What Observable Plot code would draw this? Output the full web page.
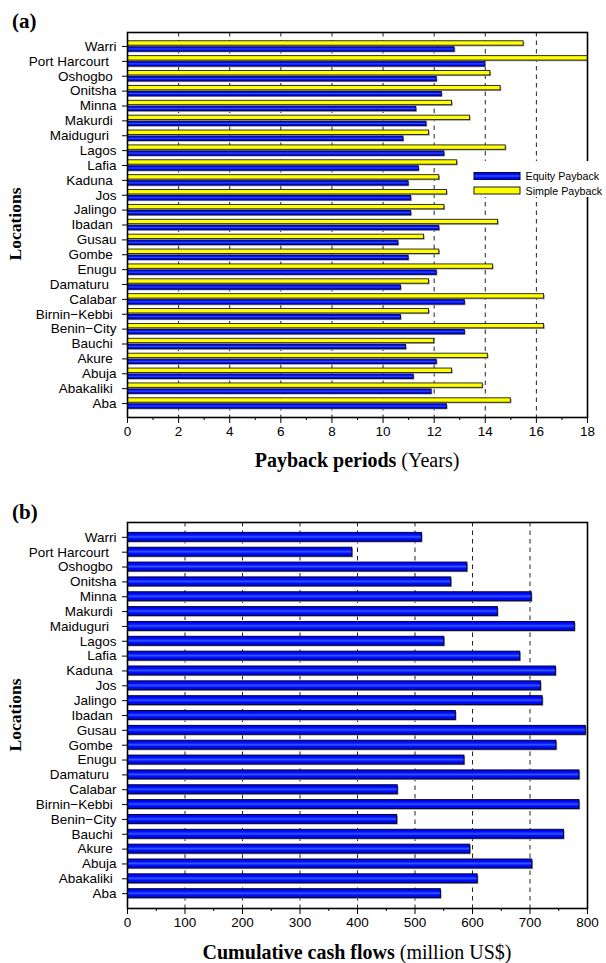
<!DOCTYPE html>
<html><head><meta charset="utf-8">
<script src="https://cdn.jsdelivr.net/npm/d3@7"></script>
<script src="https://cdn.jsdelivr.net/npm/@observablehq/plot@0.6"></script>
<style>
html,body{margin:0;padding:0;background:#fff;overflow:hidden;}
#wrap{width:606px;}
#wrap svg{display:block;}
</style></head><body><div id="wrap"></div>
<script>
// ---------- data ----------
const locations = ["Warri","Port Harcourt","Oshogbo","Onitsha","Minna","Makurdi","Maiduguri","Lagos","Lafia","Kaduna","Jos","Jalingo","Ibadan","Gusau","Gombe","Enugu","Damaturu","Calabar","Birnin\u2212Kebbi","Benin\u2212City","Bauchi","Akure","Abuja","Abakaliki","Aba"];
// tick labels as printed (some names carry trailing spaces in the source)
const locationTickLabels = ["Warri","Port Harcourt\u00a0\u00a0","Oshogbo\u00a0","Onitsha","Minna","Makurdi\u00a0","Maiduguri\u00a0\u00a0","Lagos","Lafia","Kaduna\u00a0","Jos","Jalingo","Ibadan\u00a0","Gusau","Gombe\u00a0","Enugu","Damaturu\u00a0\u00a0","Calabar","Birnin\u2212Kebbi\u00a0","Benin\u2212City","Bauchi\u00a0","Akure\u00a0","Abuja","Abakaliki\u00a0","Aba"];
const simplePayback = [15.5,18.5,14.2,14.6,12.7,13.4,11.8,14.8,12.9,12.2,12.5,12.4,14.5,11.6,12.2,14.3,11.8,16.3,11.8,16.3,12.0,14.1,12.7,13.9,15.0];
const equityPayback = [12.8,14.0,12.1,12.3,11.3,11.7,10.8,12.4,11.4,11.0,11.1,11.1,12.2,10.6,11.0,12.1,10.7,13.2,10.7,13.2,10.9,12.1,11.2,11.9,12.5];
const cumulativeCashFlows = [512,391,591,563,703,644,778,551,683,745,719,722,571,797,746,586,786,470,786,469,759,596,704,609,545];
const seriesNames = ["Equity Payback","Simple Payback"];
const paybackTicks = [0,2,4,6,8,10,12,14,16,18];
const paybackMinorTicks = [1,3,5,7,9,11,13,15,17];
const cashTicks = [0,100,200,300,400,500,600,700,800];
const cashMinorTicks = [50,150,250,350,450,550,650,750];

// ---------- shared layout ----------
const W = 606, ML = 127, MR = 19;
const sansFont = "'Liberation Sans', Arial, Helvetica, sans-serif";
const serifFont = "'Liberation Serif', 'Times New Roman', serif";
const tickLabel = d => locationTickLabels[locations.indexOf(d)];
const gradient = id => `<linearGradient id="${id}" x1="0" y1="0" x2="0" y2="1">
  <stop offset="0" stop-color="#0000ee"/><stop offset="0.3" stop-color="#0010ff"/>
  <stop offset="0.5" stop-color="#3456ff"/><stop offset="0.7" stop-color="#0010ff"/>
  <stop offset="1" stop-color="#0000e0"/></linearGradient>`;

function decorate(svg, {gradId, tag, tagY, titleBold, titleNormal, titleY, locY}) {
  const s = d3.select(svg);
  s.insert("defs", ":first-child").html(gradient(gradId));
  s.append("text").attr("x", 12).attr("y", tagY).attr("text-anchor", "start")
    .style("font-family", serifFont).style("font-size", "21px").style("font-weight", "bold")
    .attr("fill", "black").text(tag);
  const t = s.append("text").attr("x", (ML + (W - MR)) / 2).attr("y", titleY)
    .attr("text-anchor", "middle").style("white-space", "pre")
    .style("font-family", serifFont).style("font-size", "20px").attr("fill", "black");
  t.append("tspan").style("font-weight", "bold").text(titleBold);
  t.append("tspan").text(" " + titleNormal);
  s.append("text").attr("transform", `translate(15,${locY}) rotate(-90)`)
    .attr("text-anchor", "middle").attr("dominant-baseline", "central")
    .style("font-family", serifFont).style("font-size", "17.5px").style("font-weight", "bold")
    .attr("fill", "black").text("Locations");
  return s;
}

const wrap = document.getElementById("wrap");

// ---------- (a) payback periods ----------
const hA = 481, mtA = 32, mbA = 64;
const piA = 0.3, poA = 0.59;
const stepA = (hA - mtA - mbA) / (locations.length - piA + 2 * poA);
const bwA = stepA * (1 - piA);
const barHA = (bwA - 1.6) / 2;
const payback = locations.map((loc, i) => ({location: loc, simple: simplePayback[i], equity: equityPayback[i]}));

const plotA = Plot.plot({
  width: W, height: hA, marginLeft: ML, marginRight: MR, marginTop: mtA, marginBottom: mbA,
  style: {fontFamily: sansFont, fontSize: "13.5px", color: "black", background: "white"},
  x: {domain: [0, 18], label: null},
  y: {domain: locations, paddingInner: piA, paddingOuter: poA, round: false, label: null},
  marks: [
    Plot.ruleX(paybackTicks.slice(1, -1), {stroke: "#222", strokeDasharray: "4.5,4", strokeWidth: 1}),
    Plot.barX(payback, {y: "location", x: "simple", insetBottom: bwA - barHA, fill: "#9c9c9c", dx: 1.2, dy: 1.2, clip: true}),
    Plot.barX(payback, {y: "location", x: "equity", insetTop: bwA - barHA, fill: "#9c9c9c", dx: 1.2, dy: 1.2, clip: true}),
    Plot.barX(payback, {y: "location", x: "simple", insetBottom: bwA - barHA, fill: "#ffff00", stroke: "#1a1a1a", strokeWidth: 0.9, clip: true}),
    Plot.barX(payback, {y: "location", x: "equity", insetTop: bwA - barHA, fill: "url(#shineA)", stroke: "#000040", strokeWidth: 0.9, clip: true}),
    Plot.frame({stroke: "black", strokeWidth: 1.6}),
    Plot.axisX({ticks: paybackTicks, tickSize: 6, tickPadding: 3, fontSize: 13.5, label: null}),
    Plot.axisX({ticks: paybackMinorTicks, tickSize: 3, tickFormat: () => "", label: null}),
    Plot.axisY({tickSize: 5, tickPadding: 6, tickFormat: tickLabel, label: null})
  ]
});
wrap.appendChild(plotA);
const sA = decorate(plotA, {gradId: "shineA", tag: "(a)", tagY: 28, titleBold: "Payback periods", titleNormal: "(Years)", titleY: 467, locY: 224});

// legend
const lg = sA.append("g");
lg.append("rect").attr("x", 468).attr("y", 161).attr("width", 140).attr("height", 36).attr("fill", "white");
const legendItems = [
  {name: seriesNames[0], fill: "url(#shineA)", stroke: "#000040", y: 172.5},
  {name: seriesNames[1], fill: "#ffff00", stroke: "#1a1a1a", y: 187}
];
legendItems.forEach(it => {
  lg.append("rect").attr("x", 474).attr("y", it.y).attr("width", 46).attr("height", 7)
    .attr("fill", it.fill).attr("stroke", it.stroke).attr("stroke-width", 1);
  lg.append("text").attr("x", 525.5).attr("y", it.y + 3.5).attr("text-anchor", "start")
    .attr("dominant-baseline", "central")
    .style("font-family", sansFont).style("font-size", "10.7px").attr("fill", "black").text(it.name);
});

// ---------- (b) cumulative cash flows ----------
const hB = 482, mtB = 41, mbB = 55;
const cash = locations.map((loc, i) => ({location: loc, value: cumulativeCashFlows[i]}));
const plotB = Plot.plot({
  width: W, height: hB, marginLeft: ML, marginRight: MR, marginTop: mtB, marginBottom: mbB,
  style: {fontFamily: sansFont, fontSize: "13.5px", color: "black", background: "white"},
  x: {domain: [0, 800], label: null},
  y: {domain: locations, paddingInner: 0.4, paddingOuter: 0.7, round: false, label: null},
  marks: [
    Plot.ruleX(cashTicks.slice(1, -1), {stroke: "#222", strokeDasharray: "4.5,4", strokeWidth: 1}),
    Plot.barX(cash, {y: "location", x: "value", fill: "#9c9c9c", dx: 1.2, dy: 1.2, clip: true}),
    Plot.barX(cash, {y: "location", x: "value", fill: "url(#shineB)", stroke: "#000030", strokeWidth: 1, clip: true}),
    Plot.frame({stroke: "black", strokeWidth: 1.6}),
    Plot.axisX({ticks: cashTicks, tickSize: 6, tickPadding: 3, fontSize: 13.5, label: null}),
    Plot.axisX({ticks: cashMinorTicks, tickSize: 3, tickFormat: () => "", label: null}),
    Plot.axisY({tickSize: 5, tickPadding: 6, tickFormat: tickLabel, label: null})
  ]
});
wrap.appendChild(plotB);
decorate(plotB, {gradId: "shineB", tag: "(b)", tagY: 38, titleBold: "Cumulative cash flows", titleNormal: "(million US$)", titleY: 478, locY: 234});
</script></body></html>
